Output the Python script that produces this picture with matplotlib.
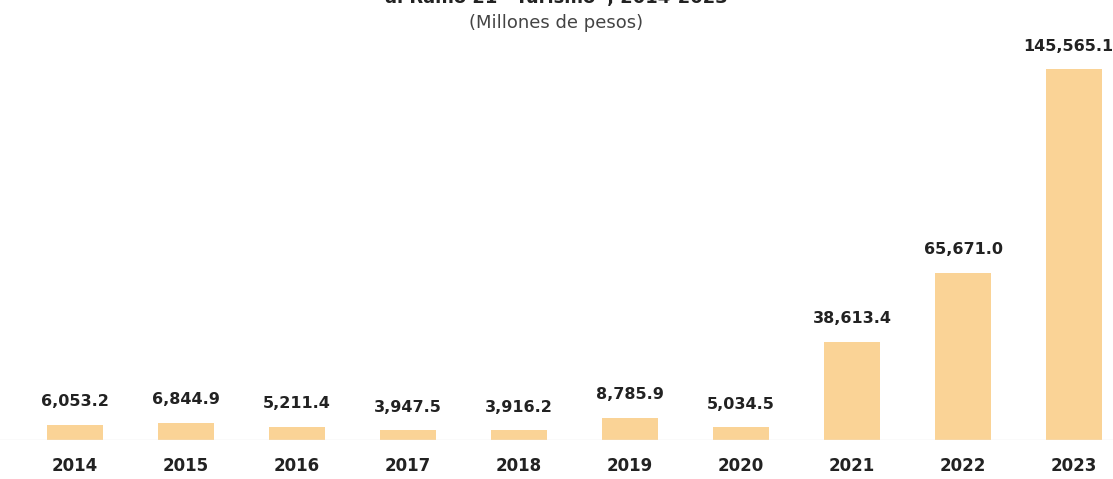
import matplotlib.pyplot as plt

years = ["2014", "2015", "2016", "2017", "2018", "2019", "2020", "2021", "2022", "2023"]
values = [6053.2, 6844.9, 5211.4, 3947.5, 3916.2, 8785.9, 5034.5, 38613.4, 65671.0, 145565.1]
labels = ["6,053.2", "6,844.9", "5,211.4", "3,947.5", "3,916.2", "8,785.9", "5,034.5",
          "38,613.4", "65,671.0", "145,565.1"]

plt.rcParams['font.family'] = ['DejaVu Sans']

fig = plt.figure(figsize=(11.13, 4.79), dpi=100)
ax = fig.add_axes([0.0, 0.0814, 1.0, 0.9186])

x = list(range(len(years)))
ax.bar(x, values, width=0.5, color="#FAD396")
ax.axhline(0, color="#e6e6e6", lw=1.0)

for xi, v, lab in zip(x, values, labels):
    # last label sits against the right edge in the source
    dx = -4 if xi == x[-1] else 0
    ax.annotate(lab, (xi, v), xytext=(dx, 11), textcoords="offset points",
                ha="center", va="bottom", fontsize=11.5, fontweight="bold", color="#222222")

ax.set_xlim(-0.676, 9.35)
ax.set_ylim(0, 172700)
ax.set_xticks(x)
ax.set_xticklabels(years, fontsize=12, fontweight="bold", color="#222222")
ax.tick_params(axis="x", length=0, pad=12)
ax.set_yticks([])
for s in ax.spines.values():
    s.set_visible(False)

fig.text(0.5, 1.004, "al Ramo 21 \u201cTurismo\u201d, 2014-2023", ha="center", va="center",
         fontsize=13, fontweight="bold", color="#222222")
fig.text(0.5, 0.953, "(Millones de pesos)", ha="center", va="center",
         fontsize=13, color="#444444")

fig.savefig("out.png", dpi=100)
